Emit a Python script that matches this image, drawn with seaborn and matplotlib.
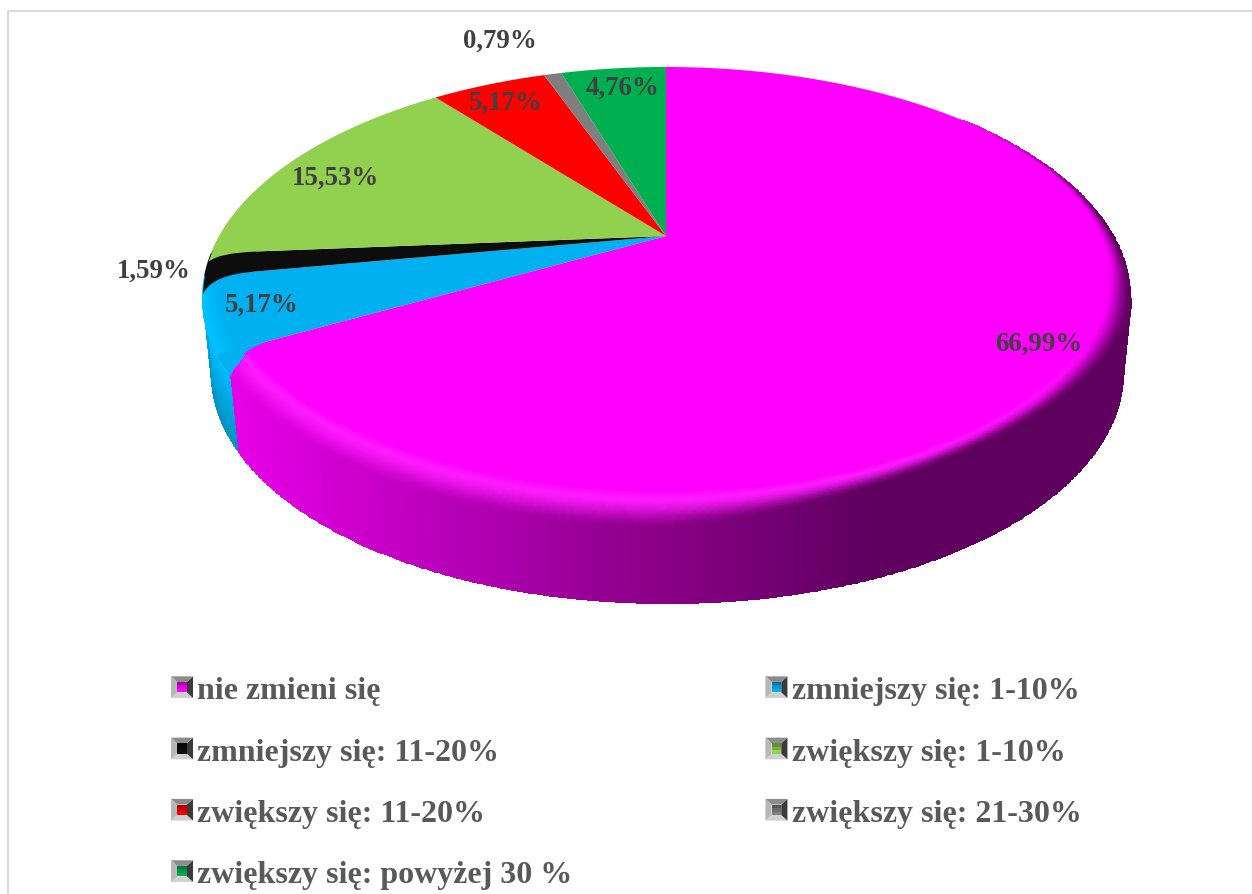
import numpy as np
import matplotlib
matplotlib.use("Agg")
import matplotlib.pyplot as plt
import seaborn as sns
from matplotlib.legend_handler import HandlerBase
from matplotlib.patches import Patch, PathPatch, Polygon
from matplotlib.path import Path
from matplotlib.transforms import Affine2D, Transform

categories = ["nie zmieni się", "zmniejszy się: 1-10%", "zmniejszy się: 11-20%",
              "zwiększy się: 1-10%", "zwiększy się: 11-20%", "zwiększy się: 21-30%",
              "zwiększy się: powyżej 30 %"]
values = [66.99, 5.17, 1.59, 15.53, 5.17, 0.79, 4.76]
colors = ["#FF00FF", "#00B0F0", "#0D0D0D", "#92D050", "#FF0000", "#7F7F7F", "#00B050"]
label_pos = [(1039, 344.5), (262, 305), (154, 271), (335, 178.5), (506, 103), (500, 41), (622, 88)]

sns.set_theme(style="white")
plt.rcParams["font.family"] = ["Liberation Serif", "DejaVu Serif"]
palette = sns.color_palette(colors)

fig = plt.figure(figsize=(12.52, 8.95), dpi=100)
ax = fig.add_axes([0, 0, 1, 1])

# perspective view of the unit disc, in pixel coordinates
CX, CY, A, B, K = 666.0, 237.0, 447.0, 214.4, 0.2685


class Persp(Transform):
    input_dims = output_dims = 2
    is_separable = False
    has_inverse = False

    def transform_non_affine(self, v):
        v = np.asarray(v, float)
        w = 1 + K * v[:, 1]
        return np.column_stack([CX + A * v[:, 0] / w, CY - B * v[:, 1] / w])

    def transform_path_non_affine(self, path):
        polys = path.transformed(Affine2D().scale(2000)).to_polygons(closed_only=True)
        return Path(self.transform_non_affine(np.vstack(polys) / 2000))


persp = Persp()


def ellipse(cx, cy, rx_right, rx_left, ry, tilt=0.0):
    def f(psi):
        p = np.radians(psi)
        c = np.cos(p)
        lift = tilt * np.sin(2 * p) * ((np.asarray(psi) > 0) & (np.asarray(psi) < 90))
        return cx + np.where(c > 0, rx_right, rx_left) * c, cy + ry * np.sin(p) - lift
    return f


E0 = ellipse(667, 280, 433, 445, 212)           # flat top face ends
E1b = ellipse(667, 299, 464, 464, 231, tilt=22)  # bevel shading ends
E1 = ellipse(667, 299, 464, 464, 231)           # outline of the top
E2 = ellipse(667, 375, 456, 456, 230)           # bottom rim
EI = ellipse(667, 285, 448, 448, 214)           # inner edge of the left strip
Eo = ellipse(667, 299, 465, 465, 232)           # just outside the outline


def strip(psi0, psi1, fa, fb, shade, z, n=420, nt=30):
    psi = np.linspace(psi0, psi1, n)
    ts = np.linspace(0, 1, nt)
    xa, ya = fa(psi)
    xb, yb = fb(psi)
    X = xa[None, :] * (1 - ts[:, None]) + xb[None, :] * ts[:, None]
    Y = ya[None, :] * (1 - ts[:, None]) + yb[None, :] * ts[:, None]
    tm = 0.5 * (ts[:-1] + ts[1:])[:, None] * np.ones(n - 1)
    xm = 0.5 * (X[:-1, :-1] + X[1:, 1:])
    pm = 0.5 * (psi[:-1] + psi[1:]) * np.ones_like(xm)
    ax.pcolormesh(X, Y, np.clip(shade(tm, xm, pm), 0, 255) / 255.0, shading="flat",
                  zorder=z, rasterized=True)


def ramp(ts_, cs_):
    cs_ = np.array(cs_, float)
    return lambda t, x, p: np.stack([np.interp(t, ts_, cs_[:, c]) for c in range(3)], axis=-1)


side_x = [230, 500, 650, 800, 870, 1135]
side_c = np.array([(232, 0, 232), (172, 0, 172), (140, 0, 136), (110, 0, 110), (95, 0, 95), (95, 0, 95)], float)
MAG = np.array([255.0, 0, 255.0])
corner = 160


def side(t, x, p):
    return np.stack([np.interp(x, side_x, side_c[:, c]) for c in range(3)], axis=-1)


def bevel(t, x, p):
    w = np.clip((p + 50) / 30, 0, 1)[..., None]
    end = side(t, x, p) * w + MAG * (1 - w)
    s = np.clip((t - 0.18) / 0.82, 0, 1)
    s = s * s * (3 - 2 * s)
    s = (s ** (1 + 2.5 * np.clip(-p / 30, 0, 1)))[..., None]
    glow = 26 * np.clip((p - 10) / 50, 0, 1)
    flat = np.stack([np.full_like(t, 255.0), np.interp(t, [0, 0.18], [0, 1]) * glow, np.full_like(t, 255.0)], axis=-1)
    return flat * (1 - s) + end * s


# walls
strip(0, corner, E1, E2, side, 0.6, nt=2)
strip(corner - 1, 182, E1, E2, ramp([0, 0.35, 1], [(0, 190, 255), (0, 172, 232), (0, 146, 192)]), 0.4)

# the slices
wedges, _ = ax.pie(values, colors=palette, startangle=90, counterclock=False, radius=1,
                   wedgeprops=dict(linewidth=0))
for w in wedges:
    w.set_transform(persp + ax.transData)
    w.set_zorder(1)


def edge_pt(cum, r):
    a = np.radians(90 - 3.6 * cum)
    return persp.transform_non_affine(np.array([[r * np.cos(a), r * np.sin(a)]]))[0]


def arc_pts(psi0, psi1, n=14):
    return [tuple(p) for p in np.column_stack(E1(np.linspace(psi0, psi1, n)))]


def rounded(points, color, z):
    """points: start, control, end of a curve, then straight runs; closed."""
    cs = [Path.MOVETO, Path.CURVE3, Path.CURVE3] + [Path.LINETO] * (len(points) - 3) + [Path.CLOSEPOLY]
    ax.add_patch(PathPatch(Path(list(points) + [points[0]], cs), fc=color, ec="none", lw=0, zorder=z))


c_pink = values[0]
c_blue = c_pink + values[1]
c_black = c_blue + values[2]

# light outer strip of the blue slice, then rounded slice corners
strip(corner + 0.5, 181, EI, Eo, ramp([0, 1], [(0, 176, 240), (0, 194, 255)]), 1.6, nt=12, n=60)
rounded([edge_pt(c_pink, 0.885), edge_pt(c_pink, 0.965), arc_pts(corner, corner)[0]]
        + arc_pts(corner, 170) + [edge_pt(c_pink, 1.0)], colors[1], 1.7)
rounded([edge_pt(c_blue, 0.90), edge_pt(c_blue, 0.985), arc_pts(181, 181)[0]]
        + arc_pts(181, 192) + [edge_pt(c_black, 0.90)], colors[2], 1.8)
rounded([edge_pt(c_black, 0.90), edge_pt(c_black, 0.985), arc_pts(189, 189)[0]]
        + arc_pts(189, 194) + [edge_pt(c_black + 1.2, 0.90)], colors[3], 1.9)

# bevel of the largest slice
strip(-50, corner, E0, E1b, bevel, 2, n=520, nt=40)
strip(0, 90, E1b, E1, side, 2.1, n=200, nt=2)
strip(0, corner, E1, Eo, side, 2.2, n=520, nt=2)

ax.set_xlim(0, 1252)
ax.set_ylim(895, 0)
ax.set_aspect("auto")
ax.axis("off")

# data labels
for v, (lx, ly) in zip(values, label_pos):
    ax.text(lx, ly, f"{v:.2f}%".replace(".", ","), ha="center", va="center",
            fontsize=19.4, fontweight="bold", color="#404040", zorder=5)


class Bevel(HandlerBase):
    def create_artists(self, legend, orig, xd, yd, width, height, fontsize, trans):
        s = height * 0.97
        x0, y0 = -xd, -yd + (height - s) / 2
        x1, y1 = x0 + width, y0 + s
        ix = width * 0.28
        iy = s * 0.26
        c = [(x0 + ix, y0 + iy), (x1 - ix, y0 + iy), (x1 - ix, y1 - iy), (x0 + ix, y1 - iy)]
        out = [(x0, y0), (x1, y0), (x1, y1), (x0, y1)]
        shades = [(0, 1, "#D0D0D0"), (1, 2, "#3A3A3A"), (2, 3, "#8C8C8C"), (3, 0, "#B8B8B8")]
        arts = [Polygon([out[a], out[b], c[b], c[a]], closed=True, fc=f, ec="none", lw=0,
                        transform=trans) for a, b, f in shades]
        base = np.array(orig.get_facecolor()[:3])
        for k, f in enumerate([1.0, 0.85, 0.68]):
            ya = c[0][1] + (c[2][1] - c[0][1]) * k / 3
            yb = c[0][1] + (c[2][1] - c[0][1]) * (k + 1) / 3
            arts.append(Polygon([(c[0][0], ya), (c[1][0], ya), (c[1][0], yb), (c[0][0], yb)], closed=True,
                                fc=base * f, ec="none", lw=0, transform=trans))
        return arts


handles = [Patch(facecolor=col, label=lab) for col, lab in zip(colors, categories)]
order = [0, 2, 4, 6, 1, 3, 5]
ax.legend([handles[i] for i in order], [categories[i] for i in order],
          handler_map={Patch: Bevel()}, ncols=2, loc="upper left",
          bbox_to_anchor=(171, 677), bbox_transform=ax.transData, frameon=False,
          prop=dict(family="Liberation Serif", weight="bold", size=23.0), labelcolor="#595959",
          borderpad=0, borderaxespad=0, handlelength=0.69, handleheight=0.7, handletextpad=0.13,
          labelspacing=1.0, columnspacing=6.04)

# chart-area frame
ax.plot([8, 8, 1252], [895, 12, 12], color="#D9D9D9", lw=1.5, zorder=0, clip_on=False)

fig.savefig("out.png", dpi=100, facecolor="white")
